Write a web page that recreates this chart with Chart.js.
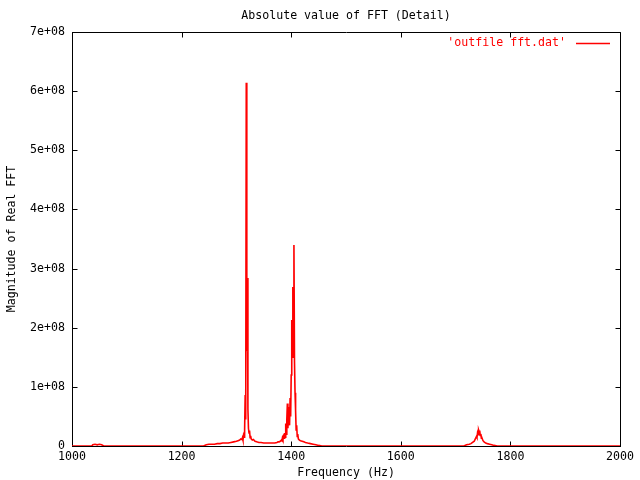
<!DOCTYPE html>
<html lang="en">
<head>
<meta charset="UTF-8">
<title>Absolute value of FFT (Detail)</title>
<script src="https://cdn.jsdelivr.net/npm/chart.js"></script>
<style>
  body { margin: 0; background: #fff; }
  canvas { display: block; }
</style>
</head>
<body>
<canvas id="fftChart" width="640" height="480"></canvas>
<script>
// frequency (Hz) and |FFT| magnitude, in units of 1e6
const freqHz = [
  1000, 1036, 1038, 1042, 1046, 1050, 1054, 1058,
  1240, 1245, 1250, 1255, 1260, 1265, 1270, 1275, 1280, 1285, 1290, 1295,
  1300, 1303, 1306, 1308, 1310, 1311, 1312, 1313, 1314, 1315, 1316, 1317,
  1318, 1319, 1320, 1321, 1322, 1323, 1324, 1325, 1326, 1327, 1329, 1331,
  1334, 1337, 1341, 1345, 1350, 1355, 1360, 1365, 1370, 1374, 1376, 1378,
  1380, 1382, 1383, 1384, 1385, 1386, 1387, 1388, 1389, 1390, 1391, 1392,
  1393, 1394, 1395, 1396, 1397, 1398, 1399, 1400, 1401, 1402, 1403, 1404,
  1405, 1406, 1407, 1408, 1409, 1410, 1411, 1412, 1413, 1415, 1417, 1420,
  1423, 1426, 1430, 1435, 1440, 1445, 1450, 1456,
  1715, 1720, 1725, 1728, 1731, 1734, 1736, 1738, 1739, 1740, 1741, 1742,
  1743, 1744, 1745, 1746, 1747, 1748, 1750, 1752, 1755, 1758, 1762, 1766,
  1770, 1776, 2000
];
const magnitude = [
  0, 0, 2, 3, 2, 3, 2, 0,
  0, 2, 3, 3, 3, 4, 4, 5, 5, 5, 6, 7,
  8, 9, 10, 12, 11, 14, 10, 18, 15, 27, 86, 45,
  614, 160, 284, 63, 30, 22, 26, 14, 17, 12, 10, 11,
  8, 7, 6, 6, 5, 5, 5, 5, 5, 6, 7, 7,
  8, 10, 9, 14, 11, 16, 13, 22, 15, 38, 20, 45,
  72, 30, 66, 40, 35, 81, 50, 120, 213, 150, 269, 200,
  340, 143, 90, 60, 27, 35, 16, 20, 12, 10, 9, 8,
  7, 6, 5, 4, 3, 2, 1, 0,
  0, 2, 3, 4, 6, 8, 12, 16, 14, 22, 19, 27,
  24, 26, 18, 20, 13, 14, 9, 7, 5, 4, 3, 2,
  1, 0, 0
];
const xTicks = [1000, 1200, 1400, 1600, 1800, 2000];
const yTicks = [0, 100, 200, 300, 400, 500, 600, 700];
const yTickLabels = ['0', '1e+08', '2e+08', '3e+08', '4e+08', '5e+08', '6e+08', '7e+08'];

const RED = '#ff0000';
const FONT = { family: "'DejaVu Sans Mono', 'Liberation Mono', monospace", size: 11.6, weight: 'normal', lineHeight: 1.2 };
const fontStr = "11.6px 'DejaVu Sans Mono', 'Liberation Mono', monospace";

// gnuplot style frame: title, top/right border, inward ticks, legend inside plot
const gnuplotFrame = {
  id: 'gnuplotFrame',
  beforeDatasetsDraw(chart) {
    const { ctx, chartArea: a, scales: { x, y } } = chart;
    const px = v => Math.round(v) + 0.5;
    const tick = 5;
    ctx.save();
    ctx.strokeStyle = '#000';
    ctx.lineWidth = 1;
    ctx.beginPath();
    ctx.moveTo(px(a.left), px(a.top));
    ctx.lineTo(px(a.right), px(a.top));
    ctx.lineTo(px(a.right), px(a.bottom));
    xTicks.forEach(v => {
      const xp = px(x.getPixelForValue(v));
      ctx.moveTo(xp, px(a.bottom)); ctx.lineTo(xp, px(a.bottom) - tick);
      ctx.moveTo(xp, px(a.top)); ctx.lineTo(xp, px(a.top) + tick);
    });
    yTicks.forEach(v => {
      const yp = px(y.getPixelForValue(v));
      ctx.moveTo(px(a.left), yp); ctx.lineTo(px(a.left) + tick, yp);
      ctx.moveTo(px(a.right), yp); ctx.lineTo(px(a.right) - tick, yp);
    });
    ctx.stroke();

    ctx.font = fontStr;
    ctx.fillStyle = '#000';
    ctx.textAlign = 'center';
    ctx.textBaseline = 'middle';
    ctx.fillText('Absolute value of FFT (Detail)', (a.left + a.right) / 2, 16);

    ctx.fillStyle = RED;
    ctx.textAlign = 'right';
    ctx.fillText(chart.data.datasets[0].label, 566, 43);
    ctx.strokeStyle = RED;
    ctx.lineWidth = 1.5;
    ctx.beginPath();
    ctx.moveTo(576, 43.5);
    ctx.lineTo(610, 43.5);
    ctx.stroke();
    ctx.restore();
  }
};

new Chart(document.getElementById('fftChart'), {
  type: 'line',
  data: {
    datasets: [{
      label: "'outfile fft.dat'",
      data: freqHz.map((f, i) => ({ x: f, y: magnitude[i] })),
      borderColor: RED,
      borderWidth: 1.6,
      pointRadius: 0,
      tension: 0,
      fill: false
    }]
  },
  options: {
    responsive: false,
    animation: false,
    devicePixelRatio: 1,
    layout: { padding: { top: 32, right: 20, bottom: 0, left: 0 } },
    plugins: {
      legend: { display: false },
      title: { display: false },
      tooltip: { enabled: false }
    },
    scales: {
      x: {
        type: 'linear',
        min: 1000,
        max: 2000,
        afterFit: s => { s.height = 34; },
        afterBuildTicks: s => { s.ticks = xTicks.map(v => ({ value: v })); },
        grid: { display: false, drawTicks: false },
        border: { display: true, color: '#000', width: 1 },
        ticks: { color: '#000', font: FONT, padding: 4, maxRotation: 0, callback: v => String(v) },
        title: { display: true, text: 'Frequency (Hz)', color: '#000', font: FONT, padding: { top: 0, bottom: 0 } }
      },
      y: {
        min: 0,
        max: 700,
        afterFit: s => { s.width = 72; },
        afterBuildTicks: s => { s.ticks = yTicks.map(v => ({ value: v })); },
        grid: { display: false, drawTicks: false },
        border: { display: true, color: '#000', width: 1 },
        ticks: {
          color: '#000', font: FONT, padding: 7,
          callback: v => yTickLabels[yTicks.indexOf(v)]
        },
        title: { display: true, text: 'Magnitude of Real FFT', color: '#000', font: FONT, padding: { top: 5, bottom: 0 } }
      }
    }
  },
  plugins: [gnuplotFrame]
});
</script>
</body>
</html>
